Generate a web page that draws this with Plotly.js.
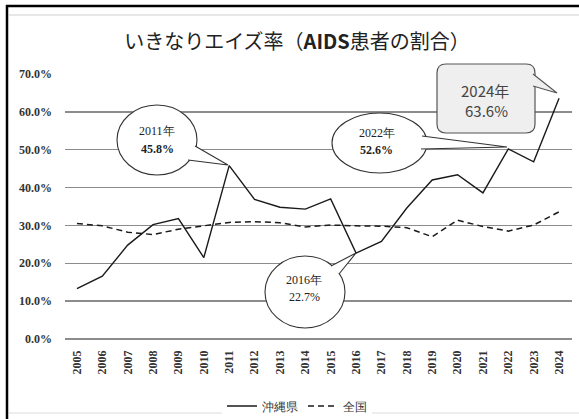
<!DOCTYPE html>
<html>
<head>
<meta charset="utf-8">
<script src="https://cdn.plot.ly/plotly-3.0.1.min.js"></script>
<style>
html,body{margin:0;padding:0;background:#fff;}
#chart{width:579px;height:419px;}
</style>
</head>
<body>
<div id="chart"></div>
<script>
// ---- data ----
var years = [2005,2006,2007,2008,2009,2010,2011,2012,2013,2014,2015,2016,2017,2018,2019,2020,2021,2022,2023,2024];
var okinawa = [13.3,16.6,24.8,30.2,31.8,21.5,45.8,36.9,34.8,34.3,37.0,22.7,25.8,34.6,42.0,43.4,38.6,50.2,46.8,63.6];
var national = [30.5,29.9,28.2,27.6,29.0,29.9,30.8,31.0,30.7,29.6,30.1,29.9,29.8,29.4,27.0,31.4,29.7,28.5,30.1,33.6];
var seriesNames = ['沖縄県','全国'];
var yTicks = [0,10,20,30,40,50,60,70];
var callouts = [
  {year:'2011年', value:'45.8%'},
  {year:'2016年', value:'22.7%'},
  {year:'2022年', value:'52.6%'},
  {year:'2024年', value:'63.6%'}
];
var titleText = 'いきなりエイズ率（<b>AIDS</b>患者の割合）';

// ---- geometry helpers (pixel -> paper) ----
var L = 65, R = 7, T = 74, B = 80, W = 579, H = 419;
var PW = W - L - R, PH = H - T - B;
function px(x){ return (x - L) / PW; }
function py(y){ return (H - B - y) / PH; }
function P(x,y){ return px(x).toFixed(5) + ',' + py(y).toFixed(5); }

var serif = '"Liberation Serif","Times New Roman",serif';
var sans = '"Noto Sans CJK JP","Noto Sans",sans-serif';

var traces = [
  {x: years, y: okinawa, name: seriesNames[0], type:'scatter', mode:'lines',
   line:{color:'#1a1a1a', width:1.4}},
  {x: years, y: national, name: seriesNames[1], type:'scatter', mode:'lines',
   line:{color:'#1a1a1a', width:1.5, dash:'6px,4px'}}
];

var shapes = [];
// frame
shapes.push({type:'line', xref:'paper', yref:'paper', x0:px(6), x1:px(590), y0:py(6), y1:py(6), line:{color:'#000', width:2.5}});
shapes.push({type:'line', xref:'paper', yref:'paper', x0:px(7), x1:px(7), y0:py(5), y1:py(430), line:{color:'#000', width:2.5}});
shapes.push({type:'line', xref:'paper', yref:'paper', x0:px(9), x1:px(590), y0:py(15), y1:py(15), line:{color:'#cfcfcf', width:1}});
shapes.push({type:'line', xref:'paper', yref:'paper', x0:px(9), x1:px(590), y0:py(413), y1:py(413), line:{color:'#dcdcdc', width:1}});

function ellipse(x0,y0,x1,y1){
  shapes.push({type:'circle', xref:'paper', yref:'paper', layer:'above',
    x0:px(x0), x1:px(x1), y0:py(y1), y1:py(y0),
    fillcolor:'#fff', line:{color:'#333', width:1.1}});
}
function tail(b1,tip,b2,fill,col){
  shapes.push({type:'path', xref:'paper', yref:'paper', layer:'above',
    path:'M'+P(b1[0],b1[1])+' L'+P(tip[0],tip[1])+' L'+P(b2[0],b2[1]),
    fillcolor:fill, line:{color:col, width:1.1}});
}
// 2011
ellipse(117,105,197,175);
tail([195,146],[228,165],[188,160],'#fff','#333');
// 2016
ellipse(265,256,345,328);
tail([331,266],[356,253],[339,274],'#fff','#333');
// 2022
ellipse(332,113,427,173);
tail([422,136],[507,147],[421,149],'#fff','#333');
// 2024 rounded box
(function(){
  var x0=437,x1=535,y0=64,y1=133,r=9;
  var p='M'+P(x0+r,y0)+' L'+P(x1-r,y0)+' Q'+P(x1,y0)+' '+P(x1,y0+r)+
        ' L'+P(x1,y1-r)+' Q'+P(x1,y1)+' '+P(x1-r,y1)+
        ' L'+P(x0+r,y1)+' Q'+P(x0,y1)+' '+P(x0,y1-r)+
        ' L'+P(x0,y0+r)+' Q'+P(x0,y0)+' '+P(x0+r,y0)+' Z';
  shapes.push({type:'path', xref:'paper', yref:'paper', layer:'above', path:p,
    fillcolor:'#efefef', line:{color:'#555', width:1.2}});
  tail([533,74],[557,93],[533,86],'#efefef','#555');
})();

var annotations = [];
function txt(x,y,t,font){
  annotations.push({xref:'paper', yref:'paper', x:px(x), y:py(y), text:t, showarrow:false,
    xanchor:'center', yanchor:'middle', font:font});
}
var cf = {family:serif, size:12, color:'#222'};
txt(157,131,callouts[0].year,cf);
txt(157,149,'<b>'+callouts[0].value+'</b>',cf);
txt(304,280,callouts[1].year,cf);
txt(304,297,callouts[1].value,cf);
txt(377,133,callouts[2].year,cf);
txt(376,150,'<b>'+callouts[2].value+'</b>',cf);
var bf = {family:sans, size:15, color:'#444'};
txt(485,90,callouts[3].year,bf);
txt(486,110,callouts[3].value,bf);

var layout = {
  width: W, height: H,
  margin:{l:L, r:R, t:T, b:B, pad:0, autoexpand:false},
  paper_bgcolor:'#fff', plot_bgcolor:'#fff',
  title:{text:titleText, x:297/W, xanchor:'center', y:1-42/H, yanchor:'middle', yref:'container',
    font:{family:sans, size:20, color:'#222'}},
  showlegend:true,
  legend:{orientation:'h', x:px(297), xanchor:'center', xref:'paper', yref:'container', y:1-406/H, yanchor:'middle',
    font:{family:serif, size:12, color:'#333'}, itemwidth:30, tracegroupgap:0},
  xaxis:{range:[2004.53,2024.51], tickmode:'array', tickvals:years, ticktext:years.map(String),
    tickangle:-90, showgrid:false, zeroline:false, showline:false, ticks:'', automargin:false,
    ticklabelstandoff:8, tickfont:{family:serif, size:12, color:'#333', weight:'bold'}, fixedrange:true},
  yaxis:{range:[0,70], tickmode:'array', tickvals:yTicks, ticktext:yTicks.map(function(v){return v.toFixed(1)+'%';}),
    showgrid:true, gridcolor:'#8c8c8c', gridwidth:1.5, zeroline:true, zerolinecolor:'#8c8c8c', zerolinewidth:1.5,
    showline:false, ticks:'', ticklabelstandoff:12, automargin:false,
    tickfont:{family:serif, size:12, color:'#333', weight:'bold'}, fixedrange:true},
  shapes: shapes,
  annotations: annotations
};

Plotly.newPlot('chart', traces, layout, {displayModeBar:false, staticPlot:true});
</script>
</body>
</html>
